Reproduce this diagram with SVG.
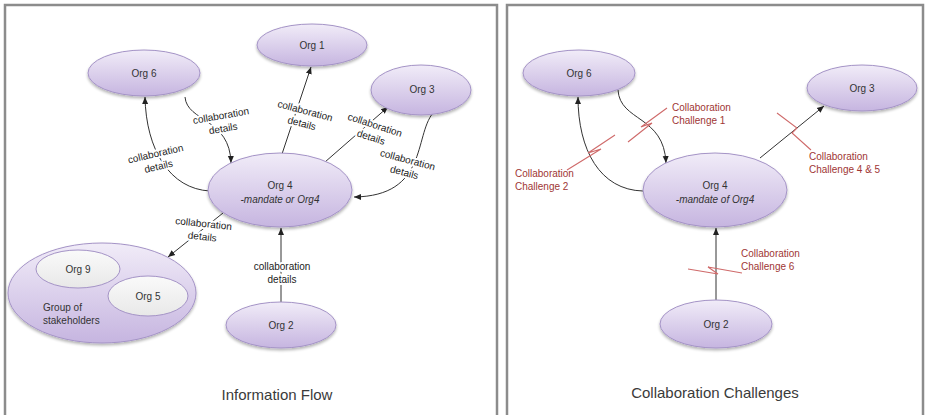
<svg xmlns="http://www.w3.org/2000/svg" width="925" height="415" viewBox="0 0 925 415">
<defs>
<linearGradient id="gP" x1="0" y1="0" x2="0" y2="1">
<stop offset="0" stop-color="#f1ecf8"/>
<stop offset="1" stop-color="#c6b5e0"/>
</linearGradient>
<linearGradient id="gW" x1="0" y1="0" x2="0" y2="1">
<stop offset="0" stop-color="#fafafa"/>
<stop offset="1" stop-color="#e8e8e8"/>
</linearGradient>
<filter id="sh" x="-20%" y="-20%" width="140%" height="150%">
<feGaussianBlur in="SourceAlpha" stdDeviation="1.5"/>
<feOffset dx="0" dy="2" result="b"/>
<feComponentTransfer><feFuncA type="linear" slope="0.3"/></feComponentTransfer>
<feMerge><feMergeNode/><feMergeNode in="SourceGraphic"/></feMerge>
</filter>
<marker id="ar" markerWidth="8" markerHeight="8" refX="7" refY="4" orient="auto" markerUnits="userSpaceOnUse">
<path d="M0,1 L7,4 L0,7 z" fill="#222"/>
</marker>
</defs>
<style>
.panel{fill:#fff;stroke:#8c8c8c;stroke-width:2.5}
.n{fill:url(#gP);stroke:#a493c6;stroke-width:1;filter:url(#sh)}
.w{fill:url(#gW);stroke:#a493c6;stroke-width:1}
.t{font-family:"Liberation Sans",Arial,sans-serif;font-size:10px;fill:#333;text-anchor:middle}
.ti{font-style:italic}
.lb{font-family:"Liberation Sans",Arial,sans-serif;font-size:10px;fill:#222;text-anchor:middle;stroke:#fff;stroke-width:4;paint-order:stroke;stroke-linejoin:round}
.c{fill:none;stroke:#333;stroke-width:1;marker-end:url(#ar)}
.brk{fill:none;stroke:#cf6a6a;stroke-width:1.1}
.rt{font-family:"Liberation Sans",Arial,sans-serif;font-size:10px;fill:#a03634}
.title{font-family:"Liberation Sans",Arial,sans-serif;font-size:15px;fill:#3a3a3a;text-anchor:middle}
</style>
<rect width="925" height="415" fill="#fff"/>
<rect class="panel" x="5" y="5" width="492" height="420"/>
<rect class="panel" x="507" y="5" width="416" height="420"/>

<g id="connectors">
<path class="c" d="M282,154 L311,67"/>
<path class="c" d="M185,97 C187,122 230,118 231,163"/>
<path class="c" d="M210,191 C170,189 146,150 145,97"/>
<path class="c" d="M325,162 L388,107"/>
<path class="c" d="M433,113 C414,136 428,196 354,197"/>
<path class="c" d="M223,213 L168,257"/>
<path class="c" d="M281,302 L281,228"/>
<path class="c" d="M618,90 C620,122 664,115 666,163"/>
<path class="c" d="M643,191 C600,190 578,150 578,97"/>
<path class="c" d="M760,158 L824,106"/>
<path class="c" d="M716,300 L716,228"/>
</g>

<g id="labels">
<g transform="translate(303.5,117) rotate(15)"><text class="lb" y="-3">collaboration</text><text class="lb" y="10">details</text></g>
<g transform="translate(222,122) rotate(-10)"><text class="lb" y="-3">collaboration</text><text class="lb" y="10">details</text></g>
<g transform="translate(157,160) rotate(-13)"><text class="lb" y="-3">collaboration</text><text class="lb" y="10">details</text></g>
<g transform="translate(373,131) rotate(18)"><text class="lb" y="-3">collaboration</text><text class="lb" y="10">details</text></g>
<g transform="translate(406,166) rotate(15)"><text class="lb" y="-3">collaboration</text><text class="lb" y="10">details</text></g>
<g transform="translate(203,230) rotate(6)"><text class="lb" y="-3">collaboration</text><text class="lb" y="10">details</text></g>
<g transform="translate(282,273)"><text class="lb" y="-3">collaboration</text><text class="lb" y="10">details</text></g>
</g>

<g id="org1"><ellipse class="n" cx="312" cy="45" rx="55" ry="21"/><text class="t" x="312" y="49">Org 1</text></g>
<g id="org6"><ellipse class="n" cx="144" cy="73" rx="56" ry="23"/><text class="t" x="144" y="77">Org 6</text></g>
<g id="org3"><ellipse class="n" cx="421" cy="90" rx="50" ry="25"/><text class="t" x="422" y="93">Org 3</text></g>
<g id="org4"><ellipse class="n" cx="280" cy="190" rx="72" ry="37"/><text class="t" x="280" y="189">Org 4</text><text class="t ti" x="280" y="203">-mandate or Org4</text></g>
<g id="group"><ellipse class="n" cx="102" cy="293" rx="94" ry="50"/>
<text class="t" x="43" y="311" style="text-anchor:start">Group of</text><text class="t" x="43" y="324" style="text-anchor:start">stakeholders</text></g>
<g id="org9"><ellipse class="w" cx="78" cy="269" rx="42" ry="19"/><text class="t" x="78" y="273">Org 9</text></g>
<g id="org5"><ellipse class="w" cx="148" cy="296" rx="40" ry="20"/><text class="t" x="148" y="300">Org 5</text></g>
<g id="org2"><ellipse class="n" cx="281" cy="325" rx="55" ry="23"/><text class="t" x="281" y="329">Org 2</text></g>
<text class="title" x="277" y="400">Information Flow</text>

<g id="r-org6"><ellipse class="n" cx="579" cy="73" rx="56" ry="23"/><text class="t" x="579" y="77">Org 6</text></g>
<g id="r-org3"><ellipse class="n" cx="862" cy="88" rx="55" ry="23"/><text class="t" x="862" y="92">Org 3</text></g>
<g id="r-org4"><ellipse class="n" cx="715" cy="190" rx="72" ry="37"/><text class="t" x="715" y="189">Org 4</text><text class="t ti" x="715" y="203">-mandate of Org4</text></g>
<g id="r-org2"><ellipse class="n" cx="716" cy="324" rx="56" ry="24"/><text class="t" x="716" y="328">Org 2</text></g>

<g id="breaks">
<polyline class="brk" points="628,142 652,123 641,127 667,108"/>
<polyline class="brk" points="567,170 601,149 588,153 615,135"/>
<polyline class="brk" points="777,113 797,128 792,133 811,150"/>
<polyline class="brk" points="688,269 718,274 708,267 742,273"/>
<text class="rt" x="672" y="111">Collaboration</text><text class="rt" x="672" y="124">Challenge 1</text>
<text class="rt" x="515" y="177">Collaboration</text><text class="rt" x="515" y="190">Challenge 2</text>
<text class="rt" x="809" y="160">Collaboration</text><text class="rt" x="809" y="173">Challenge 4 &amp; 5</text>
<text class="rt" x="741" y="257">Collaboration</text><text class="rt" x="741" y="270">Challenge 6</text>
</g>
<text class="title" x="715" y="398">Collaboration Challenges</text>
</svg>
